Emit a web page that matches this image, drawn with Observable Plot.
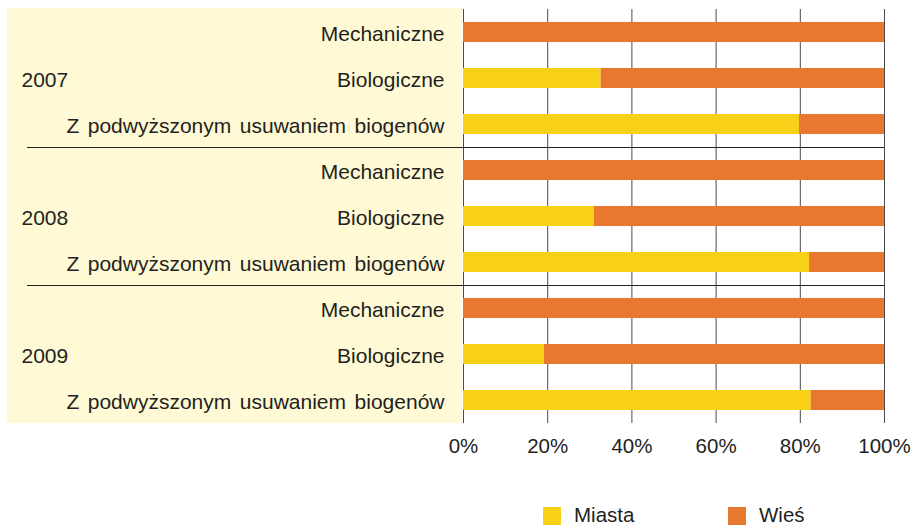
<!DOCTYPE html>
<html><head><meta charset="utf-8">
<script src="https://cdn.jsdelivr.net/npm/d3@7"></script>
<script src="https://cdn.jsdelivr.net/npm/@observablehq/plot@0.6"></script>
<style>
body{margin:0;background:#fff;font-family:"Liberation Sans",Arial,sans-serif;}
#wrap{position:relative;width:914px;height:527px;overflow:hidden;}
#wrap svg text{word-spacing:2.7px;}
#legend{position:absolute;left:543px;top:505px;display:flex;}
.item{width:185px;display:flex;align-items:flex-start;font-size:20.5px;line-height:20.5px;color:#231f20;}
.sw{width:18px;height:18px;margin-top:2px;margin-right:13px;flex:none;}
</style></head><body><div id="wrap"></div>
<script>
const years = ["2007", "2008", "2009"];
const types = ["Mechaniczne", "Biologiczne", "Z podwyższonym usuwaniem biogenów"];
const seriesNames = ["Miasta", "Wieś"];
const miasta = [[0, 32.7, 79.8], [0, 31.1, 82.2], [0, 19.2, 82.6]];
const wies = [[100, 67.3, 20.2], [100, 68.9, 17.8], [100, 80.8, 17.4]];
const colors = ["#F8D018", "#E87830"];
const xTicks = [0, 20, 40, 60, 80, 100];

const rows = [];
years.forEach((yr, i) => types.forEach((t, j) => {
  rows.push({key: yr + "|" + t, series: seriesNames[0], value: miasta[i][j]});
  rows.push({key: yr + "|" + t, series: seriesNames[1], value: wies[i][j]});
}));
const keys = years.flatMap(yr => types.map(t => yr + "|" + t));
const lastKeys = years.slice(0, -1).map(yr => yr + "|" + types[types.length - 1]);

const panel = (index, scales, values, dim) =>
  d3.create("svg:rect")
    .attr("x", 7)
    .attr("y", dim.marginTop - 1)
    .attr("width", dim.marginLeft - 8)
    .attr("height", dim.height - dim.marginTop - dim.marginBottom + 1)
    .attr("fill", "#FFFAD5")
    .node();

const chart = Plot.plot({
  width: 914,
  height: 470,
  marginLeft: 463,
  marginRight: 30,
  marginTop: 9,
  marginBottom: 47,
  style: {fontSize: "20.5px", fontFamily: "'Liberation Sans', Arial, sans-serif", background: "transparent", color: "#231f20", overflow: "visible"},
  x: {domain: [0, 100]},
  y: {domain: keys, paddingInner: 0.565, paddingOuter: 0.2825, round: false},
  color: {domain: seriesNames, range: colors},
  marks: [
    panel,
    Plot.ruleX(xTicks, {stroke: "#4a4a4a", strokeWidth: 1}),
    Plot.barX(rows, Plot.stackX({y: "key", x: "value", fill: "series", order: seriesNames})),
    Plot.ruleY(lastKeys, {y: d => d, dy: 23, insetLeft: -436, stroke: "#222", strokeWidth: 1}),
    Plot.text(years, {y: d => d + "|" + types[1], text: d => d, frameAnchor: "left", textAnchor: "start", dx: -442, dy: 1.5, fontSize: 21, fill: "#231f20"}),
    Plot.axisY({tickSize: 0, tickPadding: 19, tickFormat: k => k.split("|")[1], label: null, fontSize: 21, dy: 1.5, fill: "#231f20"}),
    Plot.axisX({ticks: xTicks, tickSize: 0, tickPadding: 15, tickFormat: d => d + "%", label: null, fontSize: 20.5, fill: "#231f20"})
  ]
});

const wrap = document.getElementById("wrap");
wrap.appendChild(chart);
const legend = document.createElement("div");
legend.id = "legend";
seriesNames.forEach((s, i) => {
  const item = document.createElement("div");
  item.className = "item";
  const sw = document.createElement("span");
  sw.className = "sw";
  sw.style.background = colors[i];
  const t = document.createElement("span");
  t.textContent = s;
  item.appendChild(sw);
  item.appendChild(t);
  legend.appendChild(item);
});
wrap.appendChild(legend);
</script></body></html>
